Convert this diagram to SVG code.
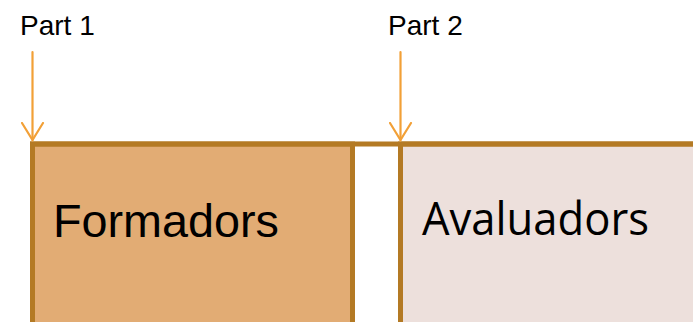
<svg xmlns="http://www.w3.org/2000/svg" width="693" height="322" viewBox="0 0 693 322">
  <style>
    .label { font-family: "Liberation Sans", Arial, sans-serif; fill: #000; }
    .frame { stroke: #B47A24; stroke-width: 5; }
    .pointer { stroke: #F2A037; stroke-width: 2.2; fill: none; stroke-linecap: round; }
  </style>
  <defs>
    <!-- open chevron head, drawn along +x so orient="auto" points it down the line -->
    <marker id="chevron" viewBox="0 0 20 24" refX="18" refY="12" markerWidth="20" markerHeight="24" markerUnits="userSpaceOnUse" orient="auto">
      <path d="M1,1.5 L18,12 L1,22.5" fill="none" stroke="#F2A037" stroke-width="2.2" stroke-linecap="round"/>
    </marker>
  </defs>

  <rect width="693" height="322" fill="#fff"/>

  <!-- Formadors block -->
  <g id="formadors">
    <rect class="frame" x="32.5" y="144" width="320" height="190" fill="#E2AC74"/>
    <text class="label" x="53" y="237" font-size="46" textLength="226" lengthAdjust="spacingAndGlyphs">Formadors</text>
  </g>

  <!-- Avaluadors block -->
  <g id="avaluadors">
    <rect class="frame" x="400.5" y="144" width="300" height="190" fill="#EDE0DC"/>
    <text x="422" y="235" font-size="46" font-family="'Open Sans', 'Noto Sans', sans-serif" textLength="227" lengthAdjust="spacingAndGlyphs">Avaluadors</text>
  </g>

  <!-- top rail joining both blocks -->
  <line class="frame" x1="30" y1="144" x2="693" y2="144"/>

  <!-- part labels -->
  <g id="part1">
    <text class="label" x="20" y="34.5" font-size="28">Part 1</text>
  </g>
  <g id="part2">
    <text class="label" x="388" y="34.5" font-size="28">Part 2</text>
  </g>

  <!-- pointers -->
  <g id="connectors">
    <line class="pointer" x1="32.5" y1="52" x2="32.5" y2="140" marker-end="url(#chevron)"/>
    <line class="pointer" x1="400.5" y1="52" x2="400.5" y2="140" marker-end="url(#chevron)"/>
  </g>
</svg>
